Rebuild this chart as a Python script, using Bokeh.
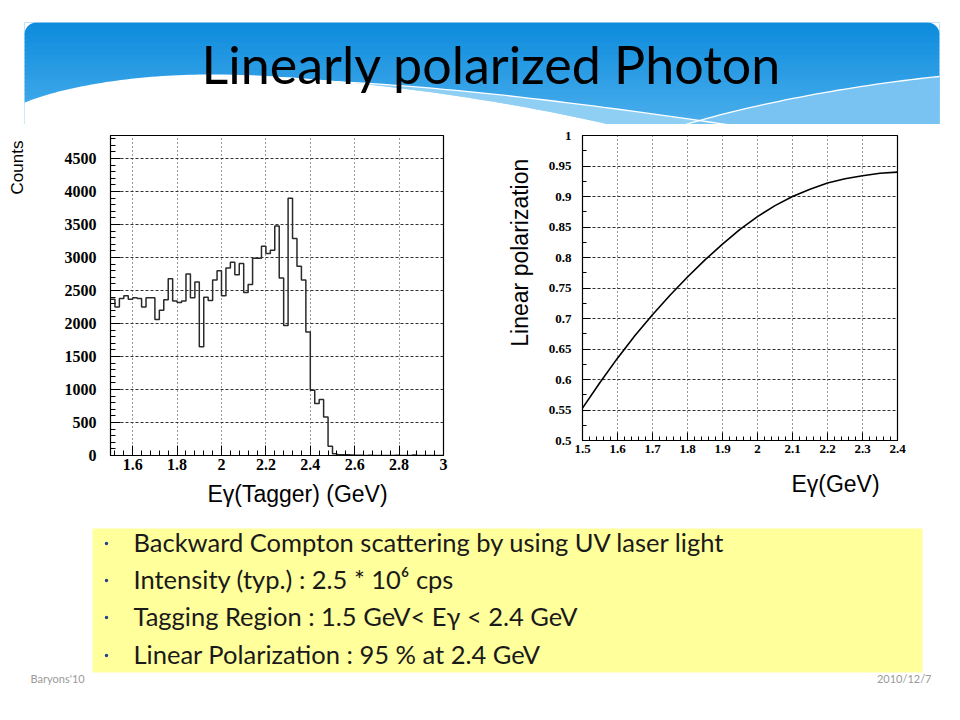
import numpy as np
from bokeh.plotting import figure
from bokeh.models import Range1d, FixedTicker, CustomJSTickFormatter
from bokeh.layouts import column, row
from bokeh.embed import file_html
from bokeh.resources import INLINE
from bokeh.core.properties import value

# ---------------- data ----------------
title_text = "Linearly polarized Photon"

hist_start = 1.5
hist_bin_width = 0.02
hist_counts = [2370, 2250, 2380, 2420, 2370, 2390, 2380, 2250, 2390, 2390,
               2060, 2200, 2360, 2680, 2340, 2320, 2340, 2750, 2390, 2630,
               1650, 2400, 2350, 2660, 2800, 2420, 2840, 2930, 2740, 2910,
               2470, 2590, 2990, 2990, 3170, 3060, 3110, 3480, 2690, 1970,
               3900, 3290, 2870, 2660, 1870, 990, 790, 850, 585, 140,
               25, 12, 10, 12, 8, 5, 4, 0, 3, 0,
               0, 0, 0, 0, 5, 0, 0, 0, 6, 0,
               0, 0, 0, 0, 0]
hist_xticks = [1.6, 1.8, 2.0, 2.2, 2.4, 2.6, 2.8, 3.0]
hist_yticks = [0, 500, 1000, 1500, 2000, 2500, 3000, 3500, 4000, 4500]
hist_xlabel = "E\u03b3(Tagger) (GeV)"
hist_ylabel = "Counts"

pol_energy = [1.50, 1.55, 1.60, 1.65, 1.70, 1.75, 1.80, 1.85, 1.90, 1.95,
              2.00, 2.05, 2.10, 2.15, 2.20, 2.25, 2.30, 2.35, 2.40]
pol_value = [0.553, 0.595, 0.635, 0.672, 0.706, 0.738, 0.768, 0.796, 0.822, 0.846,
             0.867, 0.885, 0.900, 0.912, 0.922, 0.929, 0.934, 0.938, 0.940]
pol_xticks = [1.5, 1.6, 1.7, 1.8, 1.9, 2.0, 2.1, 2.2, 2.3, 2.4]
pol_yticks = [0.5, 0.55, 0.6, 0.65, 0.7, 0.75, 0.8, 0.85, 0.9, 0.95, 1.0]
pol_xlabel = "E\u03b3(GeV)"
pol_ylabel = "Linear  polarization"

bullet_lines = ["Backward Compton scattering by using UV laser light",
                "Intensity (typ.) : 2.5 * 10\u2076 cps",
                "Tagging Region : 1.5 GeV< E\u03b3 < 2.4 GeV",
                "Linear Polarization : 95 % at 2.4 GeV"]
footer_left = "Baryons'10"
footer_right = "2010/12/7"

SERIF = "Liberation Serif"
SANS = "Liberation Sans"
TXT = "Lato"

fmt = CustomJSTickFormatter(code="return String(tick);")

HDR_H = 124          # header height (page y 0..124)
ROW_TOP = HDR_H      # charts row starts here
ROW_BOT = 512        # charts row ends here


def blank(width, height, xr, yr, **kw):
    f = figure(width=width, height=height, x_range=Range1d(*xr), y_range=Range1d(*yr),
               x_axis_type=None, y_axis_type=None, output_backend="svg",
               toolbar_location=None, min_border=0, outline_line_color=None, **kw)
    f.grid.visible = False
    return f


def bezier(p0, p1, p2, p3, n=40):
    t = np.linspace(0, 1, n)[:, None]
    pts = ((1 - t) ** 3) * np.array(p0) + 3 * ((1 - t) ** 2) * t * np.array(p1) \
        + 3 * (1 - t) * t ** 2 * np.array(p2) + t ** 3 * np.array(p3)
    return list(pts[:, 0]), list(pts[:, 1])


# ---------------- header (page coords, y down) ----------------
hdr = blank(944, HDR_H, (0, 944), (HDR_H, 0))
n_str = 28
c0 = np.array([14, 140, 221])
c1 = np.array([80, 178, 238])
for i in range(n_str):
    f = i / (n_str - 1)
    c = (c0 * (1 - f) + c1 * f).astype(int)
    colr = "#%02x%02x%02x" % tuple(c)
    y0 = 22 + i * 4
    hdr.quad(left=24, right=939, top=y0, bottom=y0 + 4.6, fill_color=colr, line_color=None)
r = 12
cy = 22 + r
ang = np.linspace(np.pi, 1.5 * np.pi, 20)
xs = [24, 24 + r] + list(24 + r + r * np.cos(ang[::-1])) + [24]
ys = [22, 22] + list(cy + r * np.sin(ang[::-1])) + [cy]
hdr.patch(xs, ys, fill_color="white", line_color=None)
ang2 = np.linspace(1.5 * np.pi, 2 * np.pi, 20)
xs2 = [939 - r, 939, 939] + list(939 - r + r * np.cos(ang2[::-1]))
ys2 = [22, 22, cy] + list(cy + r * np.sin(ang2[::-1]))
hdr.patch(xs2, ys2, fill_color="white", line_color=None)

lbx1, lby1 = bezier((300, 80), (450, 84), (620, 108), (780, 132))
wx1, wy1 = bezier((24, 102), (70, 84), (140, 74), (210, 74))
wx2, wy2 = bezier((210, 74), (330, 74), (520, 100), (640, 132))
hdr.patch(lbx1 + [640] + wx2[::-1][:-1], lby1 + [132] + wy2[::-1][:-1],
          fill_color="#8fcff4", line_color=None)
rx, ry = bezier((660, 132), (740, 105), (850, 85), (939, 76))
hdr.patch(rx + [939], ry + [132], fill_color="#78c3f1", line_color=None)
hdr.patch(wx1 + wx2 + [24], wy1 + wy2 + [132], fill_color="white", line_color=None)
hdr.line(lbx1, lby1, line_color="white", line_width=1.3)
hdr.line(rx, ry, line_color="white", line_width=1.3)
hdr.text(x=[491], y=[63], text=[title_text], text_font=value(TXT),
         text_font_size=value("52px"), text_align="center", text_baseline="middle",
         text_color="black")


def style_axes(p, size, xstand, ystand, tick_in, minor_in):
    for ax in (p.xaxis[0], p.yaxis[0]):
        ax.formatter = fmt
        ax.major_label_text_font = SERIF
        ax.major_label_text_font_style = "bold"
        ax.major_label_text_font_size = size
        ax.major_label_text_color = "black"
        ax.major_tick_in = tick_in
        ax.major_tick_out = 0
        ax.minor_tick_in = minor_in
        ax.minor_tick_out = 0
        ax.axis_line_color = "black"
        ax.major_tick_line_color = "black"
        ax.minor_tick_line_color = "black"
    p.xaxis[0].major_label_standoff = xstand
    p.yaxis[0].major_label_standoff = ystand
    p.xgrid.grid_line_color = "#333333"
    p.xgrid.grid_line_dash = "1 3"
    p.ygrid.grid_line_color = "#333333"
    p.ygrid.grid_line_dash = "3 2"


# ---------------- histogram (page x 40..490; frame x 110..443, y 135..455) ----------------
edges = [round(hist_start + hist_bin_width * i, 2) for i in range(len(hist_counts) + 1)]
LEFT_BOT = 477
left = figure(width=450, height=LEFT_BOT - ROW_TOP, x_range=Range1d(1.5, 3.0),
              y_range=Range1d(0, 4850), output_backend="svg", toolbar_location=None,
              min_border_left=70, min_border_right=47, min_border_top=135 - ROW_TOP,
              min_border_bottom=LEFT_BOT - 455, outline_line_color="black",
              outline_line_width=1.2)
left.step(x=edges, y=hist_counts + [hist_counts[-1]], mode="after",
          line_color="#2a2a2a", line_width=1.5)
x_minor = [round(v, 2) for v in np.arange(1.52, 3.0, 0.04)]
y_minor = list(range(100, 4850, 100))
left.xaxis.ticker = FixedTicker(ticks=hist_xticks, minor_ticks=x_minor)
left.yaxis.ticker = FixedTicker(ticks=hist_yticks, minor_ticks=y_minor)
left.xgrid.ticker = FixedTicker(ticks=hist_xticks)
left.ygrid.ticker = FixedTicker(ticks=hist_yticks)
style_axes(left, "16px", 3, 14, 10, 5)

counts_fig = blank(40, ROW_BOT - ROW_TOP, (0, 40), (ROW_BOT, ROW_TOP))
counts_fig.text(x=[17], y=[167], text=[hist_ylabel], angle=np.pi / 2,
                text_font=value(SANS), text_font_size=value("17px"),
                text_align="center", text_baseline="middle", text_color="black")

xl_left = blank(450, ROW_BOT - LEFT_BOT, (110, 443), (ROW_BOT, LEFT_BOT),
                min_border_left=70, min_border_right=47)
xl_left.text(x=[297], y=[493], text=[hist_xlabel], text_font=value(SANS),
             text_font_size=value("23px"), text_align="center", text_baseline="middle",
             text_color="black")

# ---------------- polarization (page x 535..944; frame x 582..897, y 135..440) ----------------
RIGHT_BOT = 470
right = figure(width=409, height=RIGHT_BOT - ROW_TOP, x_range=Range1d(1.5, 2.4),
               y_range=Range1d(0.5, 1.0), output_backend="svg", toolbar_location=None,
               min_border_left=47, min_border_right=47, min_border_top=135 - ROW_TOP,
               min_border_bottom=RIGHT_BOT - 440, outline_line_color="black",
               outline_line_width=1.2)
right.line(pol_energy, pol_value, line_color="black", line_width=1.6)
px_minor = [round(v, 2) for v in np.arange(1.52, 2.4, 0.02)]
py_minor = [round(v, 3) for v in np.arange(0.525, 1.0, 0.05)]
right.xaxis.ticker = FixedTicker(ticks=pol_xticks, minor_ticks=px_minor)
right.yaxis.ticker = FixedTicker(ticks=pol_yticks, minor_ticks=py_minor)
right.xgrid.ticker = FixedTicker(ticks=pol_xticks)
right.ygrid.ticker = FixedTicker(ticks=pol_yticks)
style_axes(right, "13px", 4, 11, 8, 4)

ylab_fig = blank(45, ROW_BOT - ROW_TOP, (490, 535), (ROW_BOT, ROW_TOP))
ylab_fig.text(x=[519], y=[249], text=[pol_ylabel], angle=np.pi / 2,
              text_font=value(SANS), text_font_size=value("23px"),
              text_align="center", text_baseline="middle", text_color="black")

xl_right = blank(409, ROW_BOT - RIGHT_BOT, (582, 897), (ROW_BOT, RIGHT_BOT),
                 min_border_left=47, min_border_right=47)
xl_right.text(x=[835], y=[483], text=[pol_xlabel], text_font=value(SANS),
              text_font_size=value("23px"), text_align="center", text_baseline="middle",
              text_color="black")

# ---------------- text box (page y 512..704) ----------------
tb = blank(944, 704 - ROW_BOT, (0, 944), (704, ROW_BOT))
tb.quad(left=92, right=922, top=528, bottom=672, fill_color="#ffff9c", line_color=None)
line_y = [541, 578, 615, 653]
tb.scatter(x=[106] * 4, y=[543, 580, 617, 655], size=3.5, marker="circle",
           fill_color="#2b3f8f", line_color=None)
tb.text(x=[133] * 4, y=line_y, text=bullet_lines, text_font=value(TXT),
        text_font_size=value("25.5px"), text_baseline="middle", text_align="left",
        text_color="#1a1a1a")
tb.text(x=[30], y=[678], text=[footer_left], text_font=value(TXT),
        text_font_size=value("11px"), text_baseline="middle", text_color="#9a9a9a")
tb.text(x=[931], y=[678], text=[footer_right], text_font=value(TXT),
        text_font_size=value("11px"), text_baseline="middle", text_align="right",
        text_color="#9a9a9a")

charts = row(column(counts_fig), column(left, xl_left), column(ylab_fig),
             column(right, xl_right))
layout = column(hdr, charts, tb)
open("out.html", "w").write(file_html(layout, INLINE))
